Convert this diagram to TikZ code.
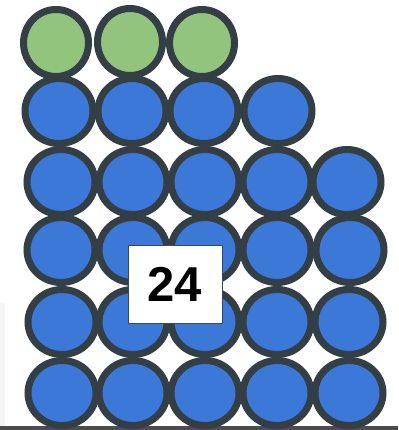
\documentclass[tikz,border=0pt]{standalone}
\usepackage{fontspec}
\newfontfamily\countfont{Liberation Sans}
\usetikzlibrary{shapes.geometric}
\definecolor{ballgreen}{HTML}{93C47D}
\definecolor{ballblue}{HTML}{3C78D8}
\definecolor{ballrim}{HTML}{333E45}
\definecolor{boxrim}{HTML}{34496A}

\begin{document}
\begin{tikzpicture}[x=1pt,y=-1pt,
  ball/.style={ellipse,draw=ballrim,line width=7pt,fill=ballblue,minimum width=68pt,minimum height=65pt,inner sep=0pt},
  gball/.style={ball,fill=ballgreen,minimum width=65pt,minimum height=67pt},
  numbox/.style={draw=boxrim,line width=1pt,fill=white,minimum width=94pt,minimum height=78pt,inner sep=0pt,font=\countfont\bfseries\fontsize{49}{50}\selectfont}]
\useasboundingbox (0,0) rectangle (398,430);
\fill[black!4] (0,303) rectangle (5,426);
\fill[black!70] (0,426) rectangle (398,430);
% top row
\node[gball] (g1) at (56,43) {};
\node[gball] (g2) at (130,42) {};
\node[gball] (g3) at (202,43) {};
\node[ball] (b21) at (59,111) {};
\node[ball] (b22) at (132,111) {};
\node[ball] (b23) at (204,111) {};
\node[ball] (b24) at (278,111) {};
\node[ball] (b31) at (61,182) {};
\node[ball] (b32) at (133,182) {};
\node[ball] (b33) at (205,182) {};
\node[ball] (b34) at (277,182) {};
\node[ball] (b35) at (347,182) {};
\node[ball] (b41) at (61,250) {};
\node[ball] (b42) at (133,250) {};
\node[ball] (b43) at (205,250) {};
\node[ball] (b44) at (277,250) {};
\node[ball] (b45) at (350,250) {};
\node[ball] (b51) at (62,322) {};
\node[ball] (b52) at (133,322) {};
\node[ball] (b53) at (205,322) {};
\node[ball] (b54) at (277,322) {};
\node[ball] (b55) at (349,322) {};
\node[ball] (b61) at (62,393) {};
\node[ball] (b62) at (133,393) {};
\node[ball] (b63) at (205,393) {};
\node[ball] (b64) at (277,393) {};
\node[ball] (b65) at (349,393) {};
\node[numbox] (count) at (175,284) {24};
\end{tikzpicture}
\end{document}
